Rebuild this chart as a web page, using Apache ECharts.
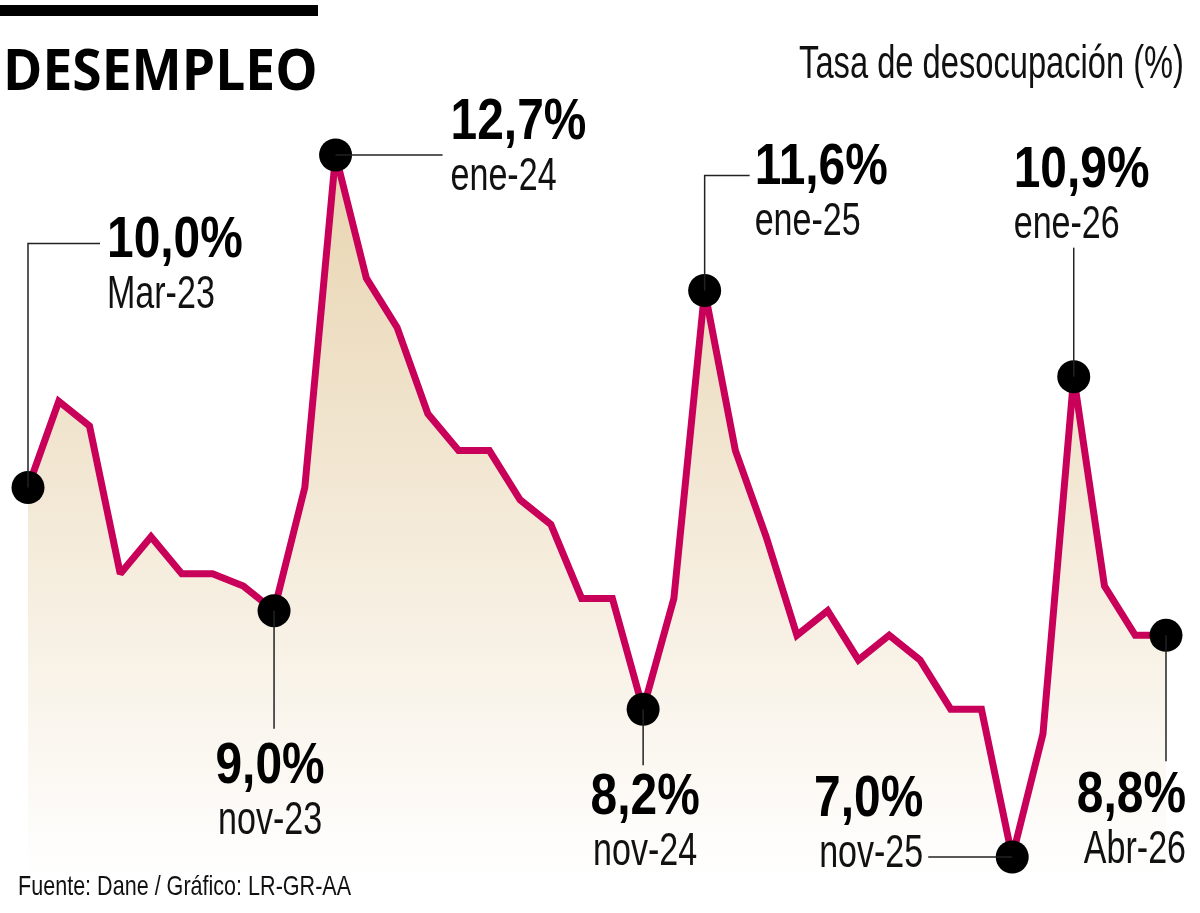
<!DOCTYPE html>
<html><head><meta charset="utf-8">
<script src="https://cdn.jsdelivr.net/npm/echarts@6/dist/echarts.min.js"></script>
<style>html,body{margin:0;padding:0;background:#fff}#c{width:1200px;height:913px}</style>
</head><body><div id="c"></div>
<script>
// ---------- data ----------
const months = ['Mar-23','Abr-23','May-23','Jun-23','Jul-23','Ago-23','Sep-23','Oct-23','Nov-23','Dic-23',
  'Ene-24','Feb-24','Mar-24','Abr-24','May-24','Jun-24','Jul-24','Ago-24','Sep-24','Oct-24','Nov-24','Dic-24',
  'Ene-25','Feb-25','Mar-25','Abr-25','May-25','Jun-25','Jul-25','Ago-25','Sep-25','Oct-25','Nov-25','Dic-25',
  'Ene-26','Feb-26','Mar-26','Abr-26'];
const rates = [10.0,10.7,10.5,9.3,9.6,9.3,9.3,9.2,9.0,10.0,
  12.7,11.7,11.3,10.6,10.3,10.3,9.9,9.7,9.1,9.1,8.2,9.1,
  11.6,10.3,9.6,8.8,9.0,8.6,8.8,8.6,8.2,8.2,7.0,8.0,
  10.9,9.2,8.8,8.8];
const highlightIdx = [0, 8, 10, 20, 22, 32, 34, 37];
const highlightDates = ['Mar-23','nov-23','ene-24','nov-24','ene-25','nov-25','ene-26','Abr-26'];
const titleText = 'DESEMPLEO';
const subtitleText = 'Tasa de desocupación (%)';
const sourceText = 'Fuente: Dane / Gráfico: LR-GR-AA';

// ---------- layout / style ----------
const SANS = '"Liberation Sans", Arial, sans-serif';
// condensed look obtained by horizontal scaling of Liberation Sans
const VAL = {size:57, weight:'bold', sx:0.84, color:'#000'};
const DATE = {size:46, weight:'normal', sx:0.74, color:'#111'};
const annotLayout = [
  {path:[[0,0],[0,-244],[72,-244]], tx:79,  ty:-246, align:'left'},
  {path:[[0,0],[0,118]],            tx:-4,  ty:157,  align:'center'},
  {path:[[0,0],[107,0]],            tx:115, ty:-32,  align:'left'},
  {path:[[0,0],[0,56]],             tx:2,   ty:89,   align:'center'},
  {path:[[0,0],[0,-115],[45,-115]], tx:50,  ty:-122, align:'left'},
  {path:[[0,0],[-84,0]],            tx:-89, ty:-57,  align:'right'},
  {path:[[0,0],[0,-129]],           tx:-60, ty:-205, align:'left'},
  {path:[[0,0],[0,126]],            tx:20,  ty:161,  align:'right'}
];
const DATE_GAP = 54;
const fmt = v => v.toFixed(1).replace('.', ',') + '%';

function txt(x, y, text, st, family, align, z){
  const el = {type:'text', x:x, y:y, scaleX:st.sx || 1, silent:true,
    style:{text:text, fill:st.color, fontSize:st.size, fontWeight:st.weight, fontFamily:family,
      align:align, textAlign:align, verticalAlign:'middle', textVerticalAlign:'middle'}};
  if (z != null) el.z = z;
  return el;
}

function renderAnnot(params, api){
  const i = params.dataIndex;
  const p = api.coord([api.value(0), api.value(1)]);
  const L = annotLayout[i];
  const v = rates[highlightIdx[i]];
  return {type:'group', children:[
    {type:'polyline', shape:{points:L.path.map(d => [p[0]+d[0], p[1]+d[1]])},
      style:{stroke:'#222', lineWidth:1.5, fill:'none'}},
    txt(p[0]+L.tx, p[1]+L.ty, fmt(v), VAL, SANS, L.align),
    txt(p[0]+L.tx, p[1]+L.ty+DATE_GAP, highlightDates[i], DATE, SANS, L.align)
  ]};
}

const chart = echarts.init(document.getElementById('c'), null, {renderer:'canvas'});
const hlData = highlightIdx.map(i => [i, rates[i]]);

chart.setOption({
  animation:false,
  backgroundColor:'#ffffff',
  grid:{left:28, right:34, top:118.05, height:763.6, containLabel:false, outerBoundsMode:'none'},
  xAxis:{type:'category', data:months, boundaryGap:false, show:false},
  yAxis:{type:'value', min:6.8, max:13.0, show:false, splitLine:{show:false}},
  graphic:[
    {type:'rect', z:100, shape:{x:0, y:5, width:318, height:11}, style:{fill:'#000'}},
    txt(3, 74, titleText, {size:57, weight:'bold', sx:0.935, color:'#000'}, '"Open Sans", "Noto Sans", sans-serif', 'left', 100),
    txt(1184, 65, subtitleText, {size:46, weight:'normal', sx:0.71, color:'#111'}, SANS, 'right', 100),
    txt(18, 887, sourceText, {size:28, weight:'normal', sx:0.77, color:'#111'}, SANS, 'left', 100)
  ],
  series:[
    {type:'line', data:rates, z:2, symbol:'none', silent:true,
      lineStyle:{color:'#c8005a', width:7, join:'miter', miterLimit:2},
      areaStyle:{opacity:1, color:new echarts.graphic.LinearGradient(0,0,0,1,[
        {offset:0, color:'#e8d4b0'}, {offset:1, color:'#ffffff'}])}},
    {type:'scatter', data:hlData, z:3, symbol:'circle', symbolSize:33, silent:true,
      itemStyle:{color:'#000', opacity:1}},
    {type:'custom', data:hlData, renderItem:renderAnnot, z:4, silent:true, clip:false}
  ]
});
</script></body></html>
